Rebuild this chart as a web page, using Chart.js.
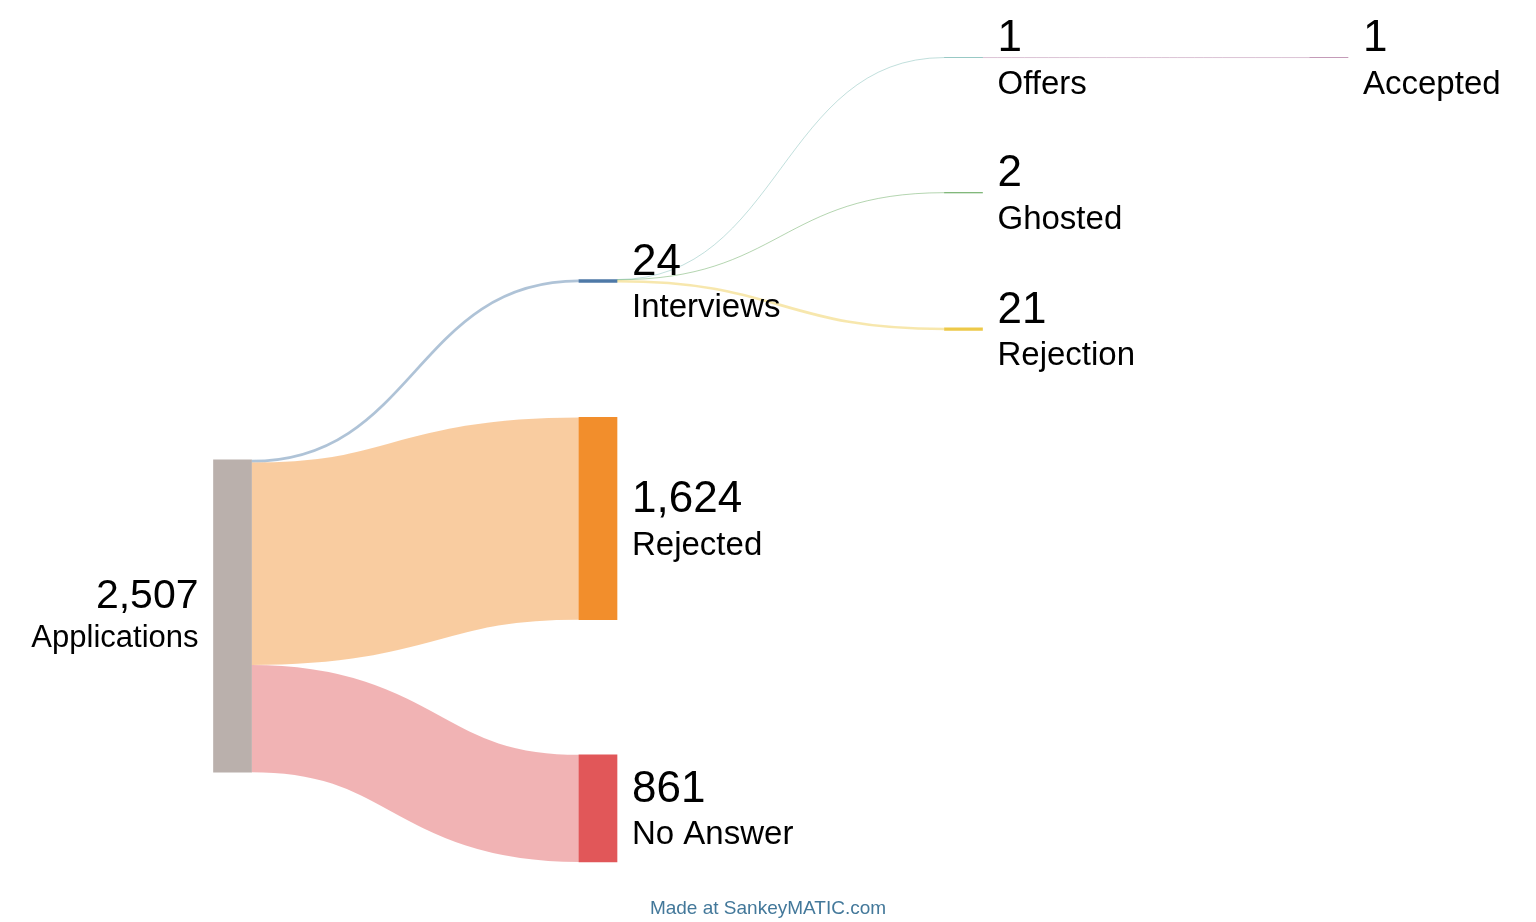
<!DOCTYPE html>
<html><head><meta charset="utf-8">
<script src="https://cdn.jsdelivr.net/npm/chart.js@4/dist/chart.umd.min.js"></script>
<style>
html,body{margin:0;padding:0;background:#fff;width:1536px;height:922px;overflow:hidden}
#wrap{position:relative;width:1536px;height:922px}
#credit{position:absolute;left:0;width:1536px;top:897px;text-align:center;font:19px "Liberation Sans",Arial,sans-serif;color:#43789a}
</style></head><body>
<div id="wrap"><canvas id="c" width="1536" height="922"></canvas><div id="credit">Made at SankeyMATIC.com</div></div>
<script>
// ---- data ----
const nodeNames   = ['Applications','Interviews','Rejected','No Answer','Offers','Ghosted','Rejection','Accepted'];
const nodeColumns = [0,1,1,1,2,2,2,3];
const nodeColors  = ['#bab0ac','#4e79a7','#f28e2c','#e15759','#76b7b2','#59a14f','#edc949','#b07aa1'];
const flowSources = ['Applications','Applications','Applications','Interviews','Interviews','Interviews','Offers'];
const flowTargets = ['Interviews','Rejected','No Answer','Offers','Ghosted','Rejection','Accepted'];
const flowValues  = [22,1624,861,1,2,21,1];
const columnAlign = ['weighted','bottom','top','top'];
const NODE_GAP = 1083;     // gap between nodes, in value units
const Y_MAX = 6457;        // value-unit height of the diagram
const NODE_W = 38;

// ---- layout (value units) ----
const idx = n => nodeNames.indexOf(n);
const inSum = nodeNames.map((n)=>flowValues.reduce((s,v,j)=>s+(flowTargets[j]===n?v:0),0));
const outSum = nodeNames.map((n)=>flowValues.reduce((s,v,j)=>s+(flowSources[j]===n?v:0),0));
const nodeValue = nodeNames.map((n,i)=>Math.max(inSum[i],outSum[i]));
const nodeTop = new Array(nodeNames.length).fill(0);
const cols = [...new Set(nodeColumns)].sort((a,b)=>a-b);
cols.forEach(c=>{
  if(columnAlign[c]==='weighted') return;
  const ids = nodeNames.map((n,i)=>i).filter(i=>nodeColumns[i]===c);
  const total = ids.reduce((s,i)=>s+nodeValue[i],0)+NODE_GAP*(ids.length-1);
  let y = columnAlign[c]==='bottom' ? Y_MAX-total : 0;
  ids.forEach(i=>{nodeTop[i]=y; y+=nodeValue[i]+NODE_GAP;});
});
cols.forEach(c=>{
  if(columnAlign[c]!=='weighted') return;
  nodeNames.forEach((n,i)=>{
    if(nodeColumns[i]!==c) return;
    let sw=0, s=0;
    flowValues.forEach((v,j)=>{ if(flowSources[j]===n){const t=idx(flowTargets[j]); s+=v*(nodeTop[t]+nodeValue[t]/2); sw+=v;} });
    nodeTop[i] = s/sw - nodeValue[i]/2;
  });
});
// ports
const srcPort = new Array(flowValues.length), tgtPort = new Array(flowValues.length);
nodeNames.forEach((n,i)=>{
  const outs = flowValues.map((v,j)=>j).filter(j=>flowSources[j]===n).sort((a,b)=>nodeTop[idx(flowTargets[a])]-nodeTop[idx(flowTargets[b])]);
  let y=nodeTop[i]; outs.forEach(j=>{srcPort[j]=y; y+=flowValues[j];});
  const ins = flowValues.map((v,j)=>j).filter(j=>flowTargets[j]===n).sort((a,b)=>nodeTop[idx(flowSources[a])]-nodeTop[idx(flowSources[b])]);
  y=nodeTop[i]; ins.forEach(j=>{tgtPort[j]=y; y+=flowValues[j];});
});

function hexA(h,a){const r=parseInt(h.slice(1,3),16),g=parseInt(h.slice(3,5),16),b=parseInt(h.slice(5,7),16);return `rgba(${r},${g},${b},${a})`;}

const flowPlugin = {
  id:'flows',
  beforeDatasetsDraw(chart){
    const ctx=chart.ctx, xs=chart.scales.x, ys=chart.scales.y;
    ctx.save();
    flowValues.forEach((v,j)=>{
      const s=idx(flowSources[j]), t=idx(flowTargets[j]);
      const x0=xs.getPixelForValue(nodeColumns[s])+NODE_W/2;
      const x1=xs.getPixelForValue(nodeColumns[t])-NODE_W/2;
      const y0=ys.getPixelForValue(srcPort[j]+v/2);
      const y1=ys.getPixelForValue(tgtPort[j]+v/2);
      const w=Math.abs(ys.getPixelForValue(v)-ys.getPixelForValue(0));
      const xm=(x0+x1)/2;
      ctx.beginPath();
      ctx.moveTo(x0,y0);
      ctx.bezierCurveTo(xm,y0,xm,y1,x1,y1);
      ctx.lineWidth=Math.max(1,w);
      ctx.strokeStyle=hexA(nodeColors[t],0.45);
      ctx.lineCap='butt';
      ctx.stroke();
    });
    ctx.restore();
  },
  afterDatasetsDraw(chart){
    const ctx=chart.ctx, xs=chart.scales.x, ys=chart.scales.y;
    ctx.save();
    ctx.fillStyle='#000';
    ctx.textBaseline='alphabetic';
    nodeNames.forEach((n,i)=>{
      const c=ys.getPixelForValue(nodeTop[i]+nodeValue[i]/2);
      const xc=xs.getPixelForValue(nodeColumns[i]);
      const left = nodeColumns[i]===0;
      const x = left ? xc-NODE_W/2-15 : xc+NODE_W/2+15;
      ctx.textAlign = left ? 'right' : 'left';
      ctx.font = (left?41:44)+'px "Liberation Sans", Arial, sans-serif';
      ctx.fillText(nodeValue[i].toLocaleString('en-US'),x,left?c-8:c-6.5);
      ctx.font = (left?31:33)+'px "Liberation Sans", Arial, sans-serif';
      ctx.fillText(n,x,left?c+31:c+36);
    });
    ctx.restore();
  }
};

new Chart(document.getElementById('c'),{
  type:'bar',
  data:{datasets:[{
    data:nodeNames.map((n,i)=>({x:nodeColumns[i],y:[nodeTop[i],nodeTop[i]+nodeValue[i]]})),
    backgroundColor:nodeColors,
    borderWidth:0,
    barThickness:NODE_W,
    clip:false
  }]},
  options:{
    responsive:false,
    animation:false,
    layout:{padding:{left:232.5,right:207,top:57.5,bottom:60}},
    plugins:{legend:{display:false},tooltip:{enabled:false}},
    scales:{
      x:{type:'linear',min:0,max:3,offset:false,display:false},
      y:{type:'linear',min:0,max:Y_MAX,reverse:true,display:false}
    }
  },
  plugins:[flowPlugin]
});
</script>
</body></html>
